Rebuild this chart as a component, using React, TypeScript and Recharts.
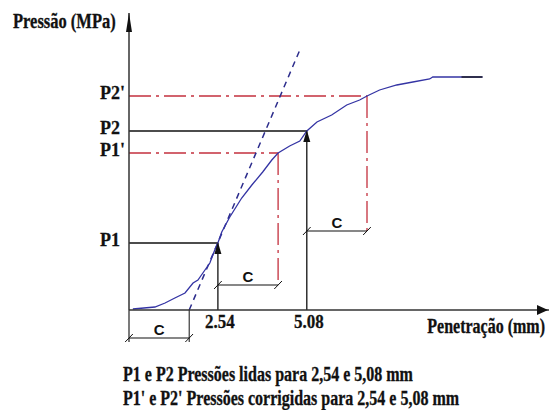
import React from 'react';
import { ComposedChart, Line, XAxis, YAxis, ReferenceLine, ReferenceDot } from 'recharts';

// Penetration (mm) and pressure (arbitrary units, 1 unit ~ 1 px) of the curve
const penetration = [0.11, 0.74, 1.03, 1.31, 1.6, 1.83, 1.97, 2.11, 2.31, 2.45, 2.54, 2.65, 2.88, 3.22, 3.51, 3.82, 4.08, 4.26, 4.59, 4.88, 5.08, 5.37, 5.79, 6.22, 6.59, 6.8, 7.16, 7.65, 8.11, 8.59, 8.68, 10.1];
const pressure = [1, 3, 7, 12, 17, 27, 30, 37, 47, 60, 67, 78, 93, 112, 125, 138, 150, 157, 164, 169, 179, 188, 195, 205, 210, 214, 220, 225, 228, 231, 233, 233];

// Key readings
const X1 = 2.54;
const X2 = 5.08;
const C = 1.72;
const P1 = 67;
const P2 = 179;
const P1_CORR = 157;
const P2_CORR = 214;

// Tangent (corrected origin) line
const tangentX = [1.72, 4.88];
const tangentY = [0, 260];

const xTicks = [X1, X2];
const xTickLabels = ['2.54', '5.08'];
const yTicks = [P1, P1_CORR, P2, P2_CORR];
const yTickLabels = ['P1', "P1'", 'P2', "P2'"];

const noteLines = [
  'P1 e P2 Pressões lidas para 2,54 e 5,08 mm',
  "P1' e P2' Pressões corrigidas para 2,54 e 5,08 mm",
];

const data = penetration.map((x, i) => ({ x, y: pressure[i] }));

const FONT = '"Liberation Serif", "Times New Roman", serif';
const SANS = '"Liberation Sans", Arial, sans-serif';
const AXIS = '#333333';
const INK = '#111111';
const RED = '#c4303e';
const BLUE = '#3434a4';
const DASHBLUE = '#2c2c8c';

// Serif bold text, slightly stretched vertically like the reference drawing
const SText = (p: { x: number; y: number; size: number; anchor?: string; sy?: number; ls?: number; children: any }) => (
  <text
    transform={`translate(${p.x},${p.y}) scale(1,${p.sy ?? 1.2})`}
    x={0}
    y={0}
    textAnchor={p.anchor ?? 'start'}
    fontFamily={FONT}
    fontWeight="bold"
    fontSize={p.size}
    letterSpacing={p.ls ?? 0}
    fill={INK}
    stroke={INK}
    strokeWidth={0.25}
  >
    {p.children}
  </text>
);

const XTick = (props: any) => {
  const { x, y, index } = props;
  return (
    <SText x={x + 2} y={y + 18} size={17} anchor="middle" sy={1.15}>
      {xTickLabels[index]}
    </SText>
  );
};

const YTick = (props: any) => {
  const { x, y, index } = props;
  return (
    <SText x={x - 29} y={y + 3} size={18} sy={1.1}>
      {yTickLabels[index]}
    </SText>
  );
};

const UpArrow = (props: any) => {
  const { cx, cy } = props;
  return <path d={`M${cx},${cy - 1} L${cx + 3.5},${cy + 11} L${cx - 3.5},${cy + 11} Z`} fill={INK} />;
};

const YAxisArrow = (props: any) => {
  const { cx, cy } = props;
  return <path d={`M${cx},${cy} L${cx + 3},${cy + 19} L${cx - 3},${cy + 19} Z`} fill={INK} />;
};

const XAxisArrow = (props: any) => {
  const { cx, cy } = props;
  return <path d={`M${cx - 1},${cy} L${cx - 12},${cy - 5} L${cx - 12},${cy + 5} Z`} fill={INK} />;
};

const CText = (props: any) => {
  const { cx, cy } = props;
  return (
    <text x={cx} y={cy - 3} textAnchor="middle" fontFamily={SANS} fontWeight="bold" fontSize={15} fill={INK}>
      C
    </text>
  );
};

const seg = (x1: number, y1: number, x2: number, y2: number) => [
  { x: x1, y: y1 },
  { x: x2, y: y2 },
];

export default function App() {
  const brackets = [
    { a: 0, b: C, y: -28 },
    { a: X1, b: X1 + C, y: 25 },
    { a: X2, b: X2 + C, y: 79 },
  ];
  const black = { stroke: INK, strokeWidth: 1.3, ifOverflow: 'visible' as const };
  const red = { stroke: RED, strokeWidth: 1.3, strokeDasharray: '22 5 3 5', ifOverflow: 'visible' as const };

  return (
    <div style={{ position: 'absolute', left: 0, top: 0, width: 551, height: 410, background: '#fff' }}>
      <ComposedChart width={551} height={410} data={data} margin={{ top: 13, right: 2, bottom: 70, left: 0 }}>
        <XAxis
          dataKey="x"
          type="number"
          domain={[0, 12]}
          ticks={xTicks}
          tick={<XTick />}
          tickLine={false}
          tickSize={0}
          tickMargin={0}
          height={30}
          axisLine={{ stroke: AXIS, strokeWidth: 1.5 }}
          interval={0}
          label={{
            content: (p: any) => (
              <SText x={p.viewBox.x + p.viewBox.width - 4} y={p.viewBox.y + 23} size={16} anchor="end" sy={1.25}>
                Penetração (mm)
              </SText>
            ),
          }}
        />
        <YAxis
          type="number"
          domain={[0, 297]}
          ticks={yTicks}
          tick={<YTick />}
          tickLine={false}
          tickSize={0}
          tickMargin={0}
          width={129}
          interval={0}
          axisLine={{ stroke: AXIS, strokeWidth: 1.5 }}
          label={{
            content: (p: any) => (
              <SText x={p.viewBox.x + 13} y={p.viewBox.y + 15} size={16.5} sy={1.25}>
                Pressão (MPa)
              </SText>
            ),
          }}
        />

        {/* corrected (red dash-dot) readings */}
        <ReferenceLine segment={seg(0, P2_CORR, X2 + C, P2_CORR)} {...red} />
        <ReferenceLine segment={seg(X2 + C, P2_CORR, X2 + C, brackets[2].y)} {...red} />
        <ReferenceLine segment={seg(0, P1_CORR, X1 + C, P1_CORR)} {...red} />
        <ReferenceLine segment={seg(X1 + C, P1_CORR, X1 + C, brackets[1].y)} {...red} />

        {/* read (black) readings */}
        <ReferenceLine segment={seg(0, P1, X1, P1)} {...black} />
        <ReferenceLine segment={seg(X1, P1, X1, 0)} {...black} />
        <ReferenceLine segment={seg(0, P2, X2, P2)} {...black} />
        <ReferenceLine segment={seg(X2, P2, X2, 0)} {...black} />

        {/* bottom bracket verticals */}
        <ReferenceLine segment={seg(0, 0, 0, -32)} stroke={AXIS} strokeWidth={1.3} ifOverflow="visible" />
        <ReferenceLine segment={seg(C, 0, C, -32)} stroke={INK} strokeWidth={1} ifOverflow="visible" />

        {/* brackets c */}
        {brackets.map((b, i) => (
          <ReferenceLine key={`b${i}`} segment={seg(b.a, b.y, b.b, b.y)} {...black} strokeWidth={1.2} />
        ))}
        {brackets.map((b, i) => (
          <ReferenceLine key={`sa${i}`} segment={seg(b.a - 0.11, b.y - 4, b.a + 0.11, b.y + 4)} {...black} strokeWidth={1} />
        ))}
        {brackets.map((b, i) => (
          <ReferenceLine key={`sb${i}`} segment={seg(b.b - 0.11, b.y - 4, b.b + 0.11, b.y + 4)} {...black} strokeWidth={1} />
        ))}
        {brackets.map((b, i) => (
          <ReferenceDot key={`c${i}`} x={(b.a + b.b) / 2} y={b.y} r={0} ifOverflow="visible" shape={<CText />} />
        ))}

        {/* tangent line */}
        <ReferenceLine
          segment={seg(tangentX[0], tangentY[0], tangentX[1], tangentY[1])}
          stroke={DASHBLUE}
          strokeWidth={1.5}
          strokeDasharray="6 5"
          ifOverflow="visible"
        />

        <Line
          dataKey="y"
          type="linear"
          stroke={BLUE}
          strokeWidth={1.3}
          dot={false}
          activeDot={false}
          isAnimationActive={false}
        />
        <ReferenceLine segment={seg(9.5, 233, 10.1, 233)} stroke={INK} strokeWidth={1.3} ifOverflow="visible" />

        <ReferenceDot x={X1} y={P1} r={0} ifOverflow="visible" shape={<UpArrow />} />
        <ReferenceDot x={X2} y={P2} r={0} ifOverflow="visible" shape={<UpArrow />} />
        <ReferenceDot x={0} y={297} r={0} ifOverflow="visible" shape={<YAxisArrow />} />
        <ReferenceDot x={12} y={0} r={0} ifOverflow="visible" shape={<XAxisArrow />} />
      </ComposedChart>
      <div
        style={{
          position: 'absolute',
          left: 123,
          top: 364,
          fontFamily: FONT,
          fontWeight: 'bold',
          fontSize: 16,
          lineHeight: '23.5px',
          color: INK,
          whiteSpace: 'nowrap',
          WebkitTextStroke: '0.25px #111',
        }}
      >
        {noteLines.map((t, i) => (
          <div key={i} style={{ transform: 'scaleY(1.25)', transformOrigin: '0 17px' }}>
            {t}
          </div>
        ))}
      </div>
    </div>
  );
}
